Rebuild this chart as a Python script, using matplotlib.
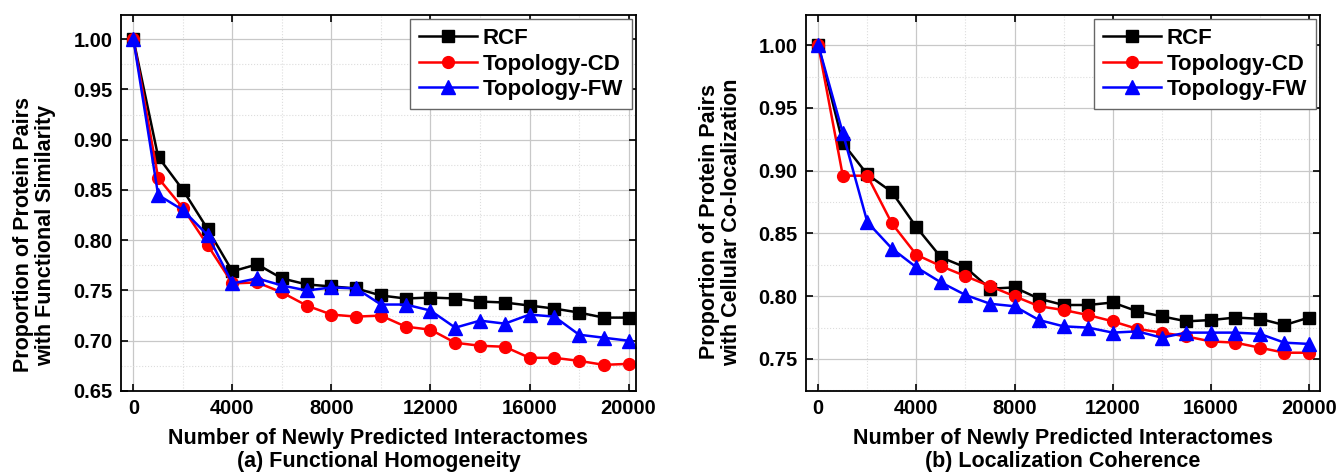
import matplotlib
matplotlib.use('Agg')
import matplotlib.pyplot as plt
from matplotlib.ticker import MultipleLocator

plt.rcParams['font.family'] = ['Liberation Sans', 'DejaVu Sans']
plt.rcParams['font.weight'] = 'bold'

x_vals = list(range(0, 20001, 1000))

# (a) functional homogeneity
fh_rcf = [1.0, 0.883, 0.850, 0.811, 0.769, 0.776, 0.762, 0.756, 0.754, 0.752, 0.745,
          0.742, 0.743, 0.742, 0.739, 0.738, 0.735, 0.732, 0.728, 0.723, 0.723]
fh_cd = [1.0, 0.862, 0.832, 0.795, 0.757, 0.758, 0.748, 0.735, 0.726, 0.724, 0.725,
         0.714, 0.711, 0.698, 0.695, 0.694, 0.683, 0.683, 0.680, 0.676, 0.677]
fh_fw = [1.0, 0.845, 0.830, 0.805, 0.757, 0.762, 0.755, 0.750, 0.753, 0.752, 0.736,
         0.736, 0.730, 0.713, 0.720, 0.717, 0.726, 0.724, 0.706, 0.703, 0.700]

# (b) localization coherence
lc_rcf = [1.0, 0.922, 0.897, 0.883, 0.855, 0.831, 0.823, 0.806, 0.807, 0.798, 0.793,
          0.793, 0.795, 0.788, 0.784, 0.780, 0.781, 0.783, 0.782, 0.777, 0.783]
lc_cd = [1.0, 0.896, 0.896, 0.858, 0.833, 0.824, 0.816, 0.808, 0.800, 0.792, 0.789,
         0.785, 0.780, 0.774, 0.771, 0.768, 0.764, 0.763, 0.759, 0.755, 0.755]
lc_fw = [1.0, 0.930, 0.859, 0.838, 0.823, 0.811, 0.801, 0.794, 0.792, 0.781, 0.776,
         0.775, 0.771, 0.772, 0.767, 0.771, 0.771, 0.771, 0.770, 0.763, 0.762]

series_names = ['RCF', 'Topology-CD', 'Topology-FW']
colors = ['black', 'red', 'blue']
markers = ['s', 'o', '^']
msizes = [8, 8.5, 9.5]

fig = plt.figure(figsize=(13.39, 4.75), dpi=100)
ax1 = fig.add_axes([121 / 1339, 1 - 391 / 475, 515 / 1339, 376 / 475])
ax2 = fig.add_axes([806 / 1339, 1 - 391 / 475, 514 / 1339, 376 / 475])


def draw(ax, data, ylabel, sub, ylim, xlim, ylab_pos):
    for vals, name, c, m, ms in zip(data, series_names, colors, markers, msizes):
        ax.plot(x_vals, vals, color=c, marker=m, markersize=ms, linewidth=1.8, label=name)
    ax.set_xlim(*xlim)
    ax.set_ylim(*ylim)
    ax.xaxis.set_major_locator(MultipleLocator(4000))
    ax.xaxis.set_minor_locator(MultipleLocator(2000))
    ax.yaxis.set_major_locator(MultipleLocator(0.05))
    ax.yaxis.set_minor_locator(MultipleLocator(0.025))
    ax.yaxis.set_major_formatter(plt.FormatStrFormatter('%.2f'))
    ax.grid(True, which='major', color='#c8c8c8', linewidth=0.9)
    ax.grid(True, which='minor', color='#dddddd', linestyle=':', linewidth=0.8)
    ax.set_axisbelow(True)
    ax.tick_params(which='major', direction='in', length=5, width=1.2,
                   top=True, right=True, labelsize=14.5, pad=6)
    ax.tick_params(which='minor', length=0)
    for lab in ax.get_xticklabels() + ax.get_yticklabels():
        lab.set_fontweight('bold')
    for sp in ax.spines.values():
        sp.set_linewidth(1.3)
    ax.set_ylabel(ylabel, fontsize=15.5, fontweight='bold', linespacing=1.05)
    ax.yaxis.set_label_coords(*ylab_pos)
    ax.set_xlabel('Number of Newly Predicted Interactomes\n' + sub,
                  fontsize=15.5, fontweight='bold', labelpad=7, linespacing=1.15)
    leg = ax.legend(loc='upper right', fontsize=16, fancybox=False, framealpha=1,
                    edgecolor='#666666', borderaxespad=0.17, handlelength=2.6,
                    borderpad=0.42, labelspacing=0.2, handletextpad=0.25)
    leg.get_frame().set_linewidth(1.0)
    for t in leg.get_texts():
        t.set_fontweight('bold')


draw(ax1, [fh_rcf, fh_cd, fh_fw], 'Proportion of Protein Pairs\nwith Functional Similarity',
     '(a) Functional Homogeneity', (0.65, 1.024), (-500, 20300), (-0.126, 0.415))
draw(ax2, [lc_rcf, lc_cd, lc_fw], 'Proportion of Protein Pairs\nwith Cellular Co-localization',
     '(b) Localization Coherence', (0.7245, 1.024), (-500, 20450), (-0.124, 0.45))

fig.savefig('out.png', dpi=100)
